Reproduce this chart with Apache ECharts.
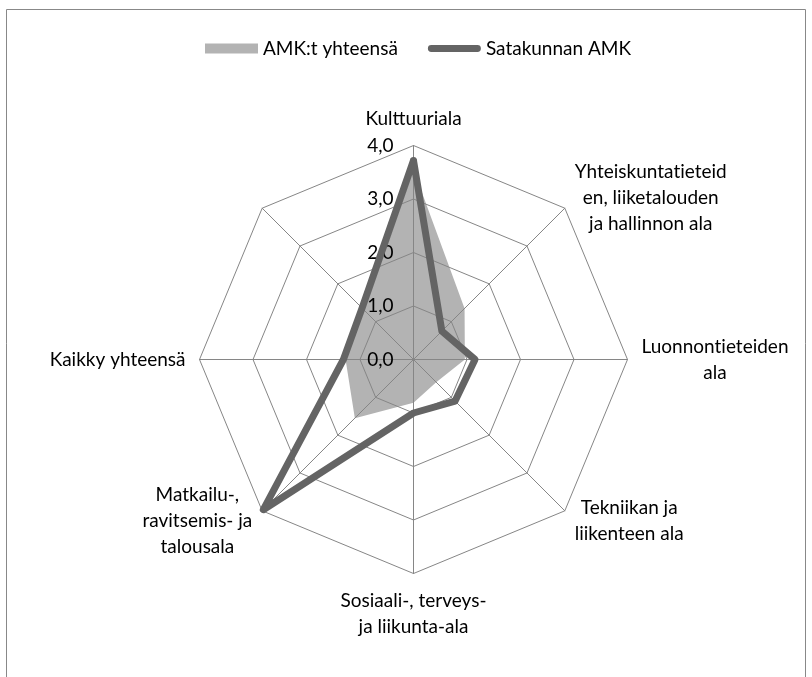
<!DOCTYPE html>
<html>
<head>
<meta charset="utf-8">
<script src="https://cdn.jsdelivr.net/npm/echarts@6/dist/echarts.min.js"></script>
<style>
html,body{margin:0;padding:0;background:#fff;}
#chart{width:812px;height:677px;}
</style>
</head>
<body>
<div id="chart"></div>
<script>
// Categories in clockwise order starting from the top (last spoke has no label)
var categories = [
  'Kulttuuriala',
  'Yhteiskuntatieteid\nen, liiketalouden\nja hallinnon ala',
  'Luonnontieteiden\nala',
  'Tekniikan ja\nliikenteen ala',
  'Sosiaali-, terveys-\nja liikunta-ala',
  'Matkailu-,\nravitsemis- ja\ntalousala',
  'Kaikky yhteensä',
  ''
];
var seriesNames = ['AMK:t yhteensä', 'Satakunnan AMK'];
var amkValues = [3.55, 1.35, 0.96, 0.60, 0.81, 1.55, 1.27, 1.30];
var satakuntaValues = [3.72, 0.75, 1.15, 1.10, 1.00, 3.97, 1.31, 1.36];
var tickLabels = ['0,0', '1,0', '2,0', '3,0', '4,0'];
var axisMax = 4;

// ECharts radar runs counter-clockwise; reorder to get a clockwise layout
function toCCW(arr) { return [arr[0]].concat(arr.slice(1).reverse()); }
// break the "ti" ligature of the font so glyphs look like the original
function noLig(s) { return s.replace(/t(?=i)/g, 't\u200C'); }

var FONT = 'Lato';
var indicators = toCCW(categories).map(function (c, i) {
  var ind = { name: c, min: 0, max: axisMax };
  if (i === 0) ind.axisLabel = { show: true };
  return ind;
});

var chart = echarts.init(document.getElementById('chart'));
chart.setOption({
  animation: false,
  backgroundColor: '#fff',
  textStyle: { fontFamily: FONT },
  graphic: [{
    type: 'rect', silent: true, z: -1,
    shape: { x: 6.5, y: 9.5, width: 799, height: 700 },
    style: { fill: 'none', stroke: '#888', lineWidth: 1 }
  }],
  legend: {
    top: 34, left: 200,
    itemWidth: 53, itemHeight: 10, itemGap: 30,
    textStyle: { fontFamily: FONT, fontSize: 19, color: '#000' },
    data: [
      { name: seriesNames[0], icon: 'rect', itemStyle: { color: '#b3b3b3' } },
      { name: seriesNames[1], icon: 'path://M0,0 M0,10 M3.5,1.5 L50.5,1.5 A3.5,3.5 0 0 1 50.5,8.5 L3.5,8.5 A3.5,3.5 0 0 1 3.5,1.5 Z', itemStyle: { color: '#646464' } }
    ]
  },
  radar: {
    z: 2,
    center: [413.5, 359.5],
    radius: 214,
    startAngle: 90,
    shape: 'polygon',
    splitNumber: 4,
    nameGap: 14,
    indicator: indicators,
    axisName: {
      color: '#000',
      fontFamily: FONT,
      fontSize: 19,
      lineHeight: 26,
      formatter: function (name) {
        if (!name) return '';
        return name.split('\n').map(function (l) { return '{c|' + noLig(l) + '}'; }).join('\n');
      },
      rich: { c: { align: 'center', fontFamily: FONT, fontSize: 19, lineHeight: 26, color: '#000' } }
    },
    axisLabel: {
      show: false,
      color: '#000',
      fontFamily: FONT,
      fontSize: 19,
      margin: 20,
      formatter: function (v) { return tickLabels[Math.round(v)] || ''; }
    },
    axisTick: { show: false },
    axisLine: { lineStyle: { color: '#868686', width: 1 } },
    splitLine: { lineStyle: { color: '#868686', width: 1 } },
    splitArea: { show: false }
  },
  series: [
    {
      type: 'radar', z: 1, name: seriesNames[0],
      symbol: 'none', silent: true,
      lineStyle: { width: 0, opacity: 0 },
      areaStyle: { color: '#b3b3b3', opacity: 1 },
      itemStyle: { color: '#b3b3b3' },
      data: [{ name: seriesNames[0], value: toCCW(amkValues) }]
    },
    {
      type: 'radar', z: 3, name: seriesNames[1],
      symbol: 'none', silent: true,
      lineStyle: { color: '#646464', width: 7, join: 'round', cap: 'round' },
      itemStyle: { color: '#646464' },
      data: [{ name: seriesNames[1], value: toCCW(satakuntaValues) }]
    }
  ]
});
</script>
</body>
</html>
